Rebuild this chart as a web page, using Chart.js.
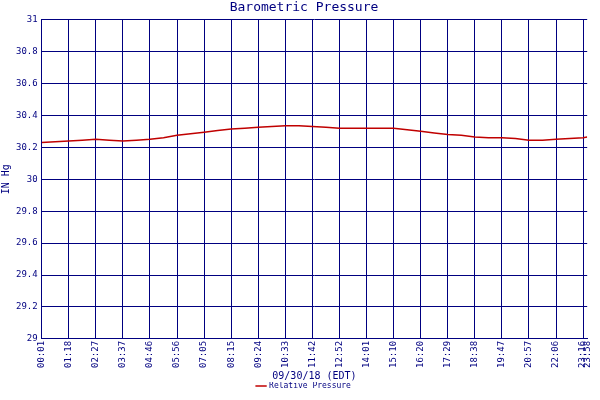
<!DOCTYPE html>
<html><head><script src="https://cdn.jsdelivr.net/npm/chart.js"></script>
<style>body{margin:0;background:#fff}#w{width:600px;height:400px}</style></head>
<body><div id="w"><canvas id="c"></canvas></div>
<script>
const tickLabels=["00:01","01:18","02:27","03:37","04:46","05:56","07:05","08:15","09:24","10:33","11:42","12:52","14:01","15:10","16:20","17:29","18:38","19:47","20:57","22:06","23:16"];
const endLabel="23:58";
const xPos=[0,0.5,1,1.5,2,2.5,3,3.5,4,4.5,5,5.5,6,6.5,7,7.5,8,8.5,9,9.5,10,10.5,11,11.5,12,12.5,13,13.5,14,14.5,15,15.5,16,16.5,17,17.5,18,18.5,19,19.5,20,20.15];
const pressure=[30.23,30.235,30.24,30.245,30.25,30.245,30.24,30.245,30.25,30.26,30.275,30.285,30.295,30.305,30.315,30.32,30.325,30.33,30.335,30.335,30.33,30.325,30.32,30.32,30.32,30.32,30.32,30.31,30.30,30.29,30.28,30.275,30.265,30.26,30.26,30.255,30.245,30.245,30.25,30.255,30.26,30.265,30.27,30.27,30.27];
const navy='#000080', mono='"DejaVu Sans Mono", monospace';
new Chart(document.getElementById('c'),{type:'line',
data:{datasets:[{label:'Relative Pressure',data:xPos.map((x,i)=>({x,y:pressure[i]})),borderColor:'#c00000',borderWidth:1.5,pointRadius:0,tension:0}]},
options:{responsive:true,maintainAspectRatio:false,animation:false,
layout:{padding:{left:0,right:-8,top:0,bottom:0}},
plugins:{title:{display:true,text:'Barometric Pressure',color:navy,font:{family:mono,size:13,weight:'normal'},padding:{top:0,bottom:4}},
legend:{position:'bottom',labels:{usePointStyle:true,pointStyle:'line',color:navy,font:{family:mono,size:8},boxWidth:14,padding:0}},tooltip:{enabled:false}},
scales:{x:{type:'linear',min:0,max:20.15,
afterBuildTicks:s=>{s.ticks=tickLabels.map((_,i)=>({value:i}));s.ticks.push({value:20.15});},
ticks:{color:navy,font:{family:mono,size:9},maxRotation:90,minRotation:90,autoSkip:false,padding:2,callback:v=>v===20.15?endLabel:tickLabels[v]},
grid:{color:c=>c.tick&&c.tick.value===20.15?'rgba(0,0,0,0)':navy,lineWidth:1,drawTicks:false},border:{color:navy},
title:{display:true,text:'09/30/18 (EDT)',color:navy,font:{family:mono,size:10},padding:{top:0,bottom:0}}},
y:{min:29,max:31,ticks:{stepSize:0.2,color:navy,font:{family:mono,size:9},padding:4,callback:v=>Math.round(v*10)/10},
grid:{color:navy,lineWidth:1,drawTicks:false},border:{color:navy},
title:{display:true,text:'IN Hg',color:navy,font:{family:mono,size:10},padding:0}}}}});
</script></body></html>
